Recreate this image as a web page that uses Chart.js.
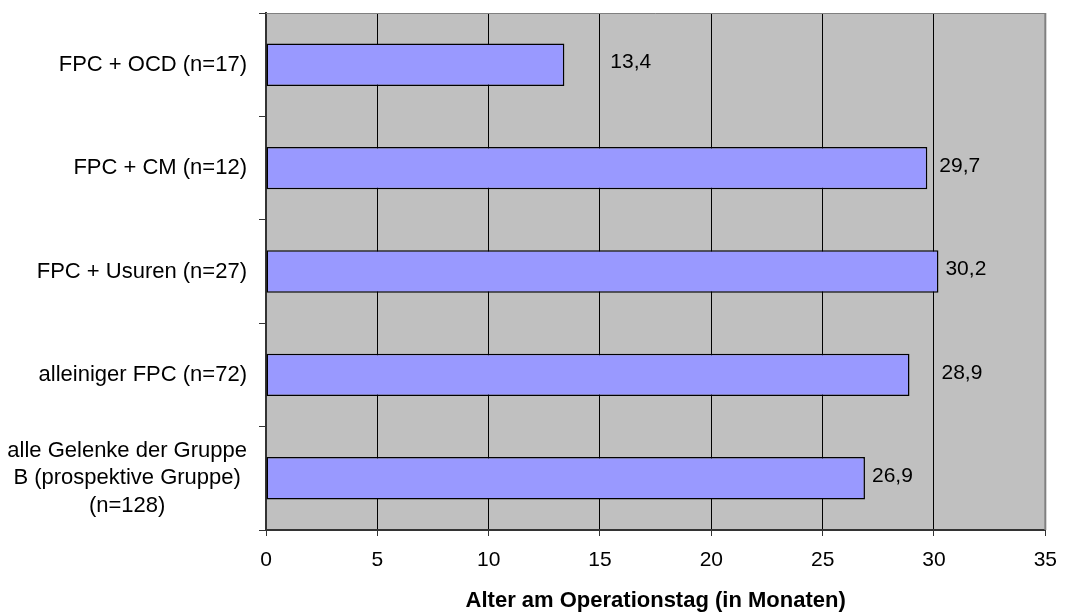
<!DOCTYPE html>
<html>
<head>
<meta charset="utf-8">
<script src="https://cdn.jsdelivr.net/npm/chart.js@4/dist/chart.umd.min.js"></script>
<style>
  html, body { margin: 0; padding: 0; background: #ffffff; }
  #wrap { width: 1069px; height: 614px; position: relative; }
</style>
</head>
<body>
<div id="wrap"><canvas id="c" width="1069" height="614"></canvas></div>
<script>
const categories = [
  'FPC + OCD (n=17)',
  'FPC + CM (n=12)',
  'FPC + Usuren (n=27)',
  'alleiniger FPC (n=72)',
  ['alle Gelenke der Gruppe', 'B (prospektive Gruppe)', '(n=128)']
];
const values = [13.4, 29.7, 30.2, 28.9, 26.9];
const xMin = 0;
const xMax = 35;
const xStep = 5;
const axisTitle = 'Alter am Operationstag (in Monaten)';

const FONT = '"Liberation Sans", Arial, sans-serif';

const plotBg = {
  id: 'plotBg',
  beforeDraw(chart) {
    const {ctx, chartArea: a} = chart;
    ctx.save();
    ctx.fillStyle = '#C0C0C0';
    ctx.fillRect(a.left, a.top, a.right - a.left, a.bottom - a.top);
    ctx.restore();
  },
  afterDatasetsDraw(chart) {
    const {ctx, chartArea: a} = chart;
    ctx.save();
    ctx.strokeStyle = '#808080';
    ctx.lineWidth = 1;
    ctx.beginPath();
    ctx.moveTo(a.left, a.top + 0.5);
    ctx.lineTo(a.right, a.top + 0.5);
    ctx.stroke();
    ctx.lineWidth = 2;
    ctx.beginPath();
    ctx.moveTo(a.right, a.top);
    ctx.lineTo(a.right, a.bottom);
    ctx.stroke();
    ctx.restore();
  }
};

const catLabels = {
  id: 'catLabels',
  afterDraw(chart, args, opts) {
    const {ctx} = chart;
    const y = chart.scales.y;
    ctx.save();
    ctx.font = '22px ' + FONT;
    ctx.fillStyle = '#000';
    ctx.textBaseline = 'middle';
    ctx.textAlign = 'center';
    const right = y.right - opts.gap;
    const lh = opts.lineHeight;
    chart.data.labels.forEach((lab, i) => {
      const lines = Array.isArray(lab) ? lab : [lab];
      const w = Math.max(...lines.map(l => ctx.measureText(l).width));
      const cx = right - w / 2;
      const cy = y.getPixelForValue(i);
      const y0 = cy - (lines.length - 1) * lh / 2;
      lines.forEach((l, k) => ctx.fillText(l, cx, y0 + k * lh));
    });
    ctx.restore();
  }
};

const valLabels = {
  id: 'valLabels',
  afterDatasetsDraw(chart, args, opts) {
    const {ctx} = chart;
    const meta = chart.getDatasetMeta(0);
    const ds = chart.data.datasets[0].data;
    ctx.save();
    ctx.font = '21px ' + FONT;
    ctx.fillStyle = '#000';
    ctx.textBaseline = 'middle';
    ctx.textAlign = 'left';
    meta.data.forEach((bar, i) => {
      const txt = String(ds[i]).replace('.', ',');
      ctx.fillText(txt, bar.x + opts.gaps[i], bar.y + opts.dy);
    });
    ctx.restore();
  }
};

new Chart(document.getElementById('c'), {
  type: 'bar',
  data: {
    labels: categories,
    datasets: [{
      data: values,
      backgroundColor: '#9999FF',
      borderColor: '#000000',
      borderWidth: 1.5,
      borderSkipped: false,
      barPercentage: 0.41,
      categoryPercentage: 1.0
    }]
  },
  options: {
    indexAxis: 'y',
    responsive: false,
    animation: false,
    devicePixelRatio: 1,
    layout: { padding: { top: 13, right: 16, left: 0, bottom: 0 } },
    plugins: {
      legend: { display: false },
      tooltip: { enabled: false },
      catLabels: { gap: 19, lineHeight: 27.5 },
      valLabels: { gaps: [46, 12, 7, 32, 7], dy: -2 }
    },
    scales: {
      x: {
        type: 'linear',
        min: xMin,
        max: xMax,
        ticks: {
          stepSize: xStep,
          color: '#000',
          font: { family: FONT, size: 21 },
          padding: 12,
          maxRotation: 0
        },
        grid: {
          color: '#000000',
          lineWidth: 1,
          drawTicks: true,
          tickLength: 6,
          tickColor: '#333333'
        },
        border: { display: true, color: '#333333', width: 2 },
        title: {
          display: true,
          text: axisTitle,
          color: '#000',
          font: { family: FONT, size: 22, weight: 'bold' },
          padding: { top: 0, bottom: 0 }
        },
        afterFit(scale) { scale.height = 84; }
      },
      y: {
        type: 'category',
        offset: true,
        ticks: { display: false },
        grid: {
          offset: true,
          drawOnChartArea: false,
          drawTicks: true,
          tickLength: 7,
          tickColor: '#333333'
        },
        border: { display: true, color: '#333333', width: 2 },
        afterFit(scale) { scale.width = 266; }
      }
    }
  },
  plugins: [plotBg, catLabels, valLabels]
});
</script>
</body>
</html>
